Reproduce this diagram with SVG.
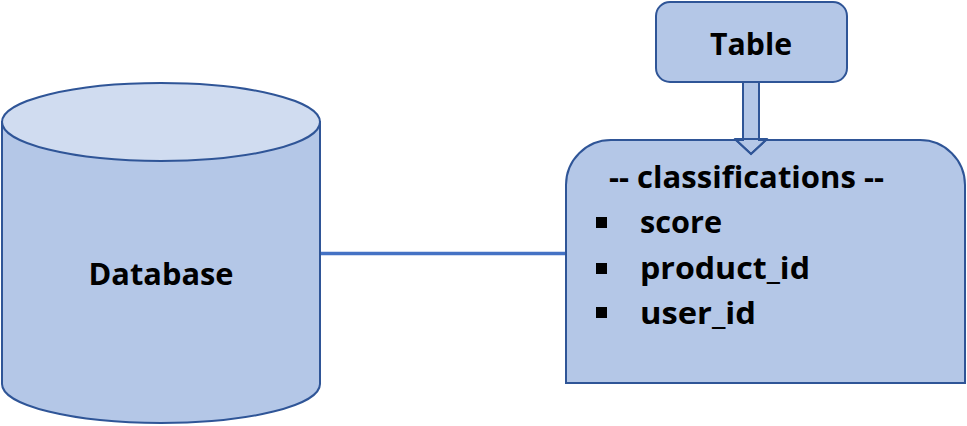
<svg xmlns="http://www.w3.org/2000/svg" width="967" height="426" viewBox="0 0 967 426">
<style>
.shape{fill:#B4C7E7;stroke:#2F5597;stroke-width:2}
.top{fill:#D0DCF0;stroke:#2F5597;stroke-width:2}
.t{font-family:"Open Sans","Liberation Sans",Arial,sans-serif;font-weight:bold;fill:#000;font-size:30px}
.b{fill:#000}
</style>
<rect width="967" height="426" fill="#fff"/>
<g id="connectors">
<line x1="320" y1="253.5" x2="566" y2="253.5" stroke="#4472C4" stroke-width="3.5"/>
<path class="shape" d="M743,82 L759,82 L759,139 L766,139 L751,154 L736,139 L743,139 Z"/>
</g>
<g id="database">
<path class="shape" d="M2,122 L2,384 A159,39 0 0 0 320,384 L320,122 Z"/>
<ellipse class="top" cx="161" cy="122" rx="159" ry="39"/>
<text class="t" x="161" y="285" text-anchor="middle" textLength="145" lengthAdjust="spacingAndGlyphs">Database</text>
</g>
<g id="table">
<rect class="shape" x="656" y="2" width="191" height="80" rx="14"/>
<text class="t" x="751" y="55" text-anchor="middle" textLength="82" lengthAdjust="spacingAndGlyphs">Table</text>
</g>
<g id="classifications">
<path class="shape" d="M566,383 L566,185 A45,45 0 0 1 611,140 L920,140 A45,45 0 0 1 965,185 L965,383 Z"/>
<path class="shape" d="M743,139 L759,139 L759,140 L766,140 L751,154 L736,140 L743,140 Z" stroke="none"/>
<polyline points="736,140 751,154 766,140" fill="none" stroke="#2F5597" stroke-width="2"/>
<text class="t" x="609" y="188" textLength="275" lengthAdjust="spacingAndGlyphs">-- classifications --</text>
<rect class="b" x="596" y="217" width="11" height="11"/>
<text class="t" x="640" y="233" textLength="82" lengthAdjust="spacingAndGlyphs">score</text>
<rect class="b" x="596" y="263" width="11" height="11"/>
<text class="t" x="640" y="279" textLength="170" lengthAdjust="spacingAndGlyphs">product_id</text>
<rect class="b" x="596" y="307" width="11" height="11"/>
<text class="t" x="640" y="324" textLength="116" lengthAdjust="spacingAndGlyphs">user_id</text>
</g>
</svg>
